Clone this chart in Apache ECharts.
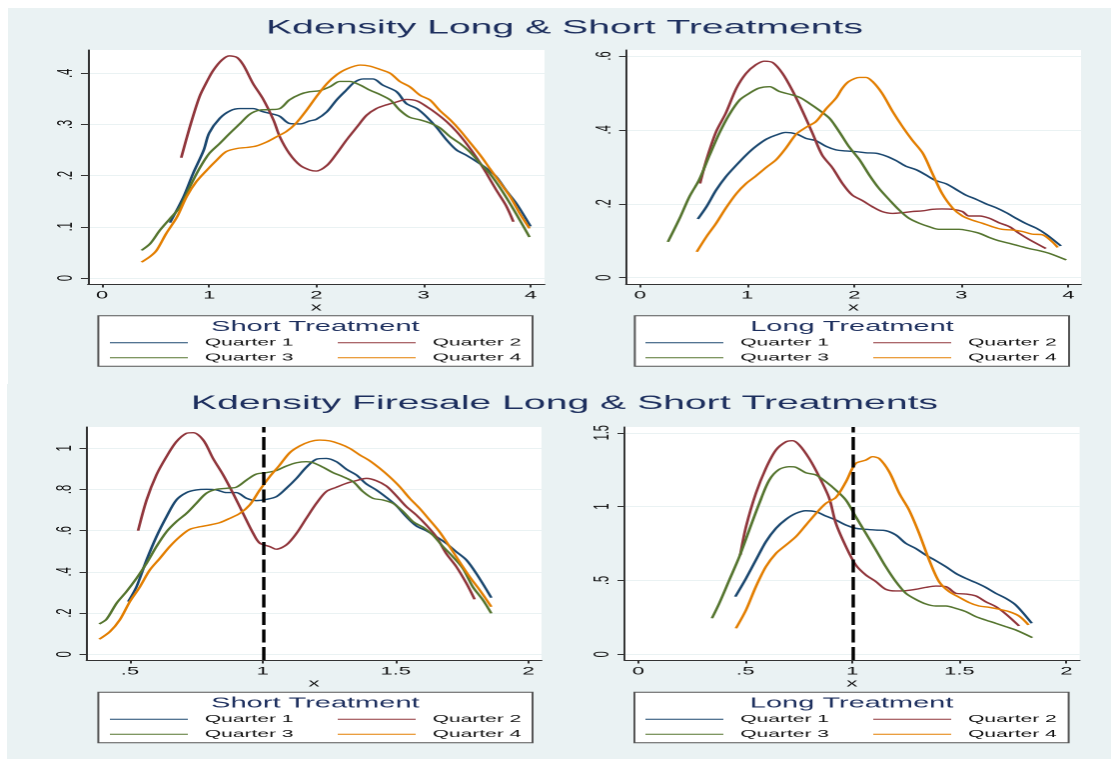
<!DOCTYPE html>
<html><head><meta charset="utf-8">
<script src="https://cdn.jsdelivr.net/npm/echarts@6/dist/echarts.min.js"></script>
<style>
html,body{margin:0;padding:0;background:#fff;width:1111px;height:759px;overflow:hidden;}
#chart{position:absolute;left:0;top:0;width:556px;height:759px;transform:scaleX(1.99820);transform-origin:0 0;}
</style></head><body><div id="chart"></div>
<script>
// ---------- data ----------
const quarterNames = ['Quarter 1','Quarter 2','Quarter 3','Quarter 4'];
const mainTitles = ['Kdensity Long & Short Treatments','Kdensity Firesale Long & Short Treatments'];
const legendTitles = ['Short Treatment','Long Treatment','Short Treatment','Long Treatment'];
const axisName = 'x';
const firesaleCutoff = 1;

const tlXTicks = [0,1,2,3,4];
const tlYTicks = [0,0.1,0.2,0.3,0.4];
const trXTicks = [0,1,2,3,4];
const trYTicks = [0,0.2,0.4,0.6];
const blXTicks = [0.5,1,1.5,2];
const blYTicks = [0,0.2,0.4,0.6,0.8,1];
const brXTicks = [0,0.5,1,1.5,2];
const brYTicks = [0,0.5,1,1.5];

// Kdensity Long & Short - Short Treatment
const tlQ1 = [[0.635,0.108],[0.76,0.158],[0.85,0.204],[0.95,0.25],[1.0,0.283],[1.1,0.312],[1.2,0.327],[1.29,0.331],[1.41,0.331],[1.5,0.325],[1.6,0.32],[1.66,0.316],[1.75,0.302],[1.85,0.301],[1.94,0.307],[2.0,0.31],[2.1,0.325],[2.19,0.348],[2.28,0.367],[2.36,0.383],[2.44,0.389],[2.53,0.389],[2.62,0.377],[2.75,0.364],[2.84,0.341],[2.94,0.331],[3.03,0.315],[3.12,0.295],[3.22,0.269],[3.31,0.25],[3.4,0.24],[3.5,0.227],[3.59,0.214],[3.68,0.198],[3.77,0.172],[3.87,0.145],[4.0,0.101]];
const tlQ2 = [[0.74,0.235],[0.82,0.295],[0.91,0.354],[0.98,0.384],[1.04,0.406],[1.12,0.426],[1.19,0.434],[1.26,0.431],[1.32,0.416],[1.41,0.38],[1.5,0.351],[1.6,0.309],[1.66,0.276],[1.75,0.243],[1.85,0.22],[1.94,0.211],[2.0,0.209],[2.1,0.22],[2.19,0.243],[2.28,0.269],[2.38,0.295],[2.47,0.318],[2.56,0.331],[2.65,0.338],[2.75,0.344],[2.84,0.349],[2.94,0.346],[3.03,0.335],[3.12,0.322],[3.22,0.305],[3.31,0.286],[3.4,0.263],[3.5,0.234],[3.59,0.204],[3.68,0.172],[3.77,0.142],[3.84,0.11]];
const tlQ3 = [[0.37,0.054],[0.45,0.067],[0.54,0.093],[0.635,0.116],[0.73,0.139],[0.82,0.178],[0.91,0.214],[1.0,0.243],[1.1,0.263],[1.19,0.282],[1.29,0.302],[1.38,0.32],[1.47,0.328],[1.56,0.329],[1.66,0.331],[1.75,0.348],[1.85,0.359],[1.94,0.364],[2.03,0.366],[2.13,0.374],[2.22,0.384],[2.31,0.384],[2.41,0.377],[2.5,0.367],[2.59,0.359],[2.69,0.348],[2.78,0.328],[2.87,0.314],[2.97,0.309],[3.06,0.303],[3.15,0.294],[3.25,0.276],[3.34,0.263],[3.43,0.247],[3.53,0.224],[3.62,0.204],[3.71,0.178],[3.81,0.145],[3.9,0.113],[3.99,0.08]];
const tlQ4 = [[0.37,0.031],[0.45,0.042],[0.51,0.054],[0.6,0.087],[0.7,0.119],[0.79,0.159],[0.88,0.188],[0.98,0.211],[1.07,0.23],[1.16,0.247],[1.26,0.253],[1.35,0.255],[1.44,0.258],[1.54,0.266],[1.63,0.276],[1.72,0.286],[1.81,0.302],[1.91,0.328],[2.0,0.354],[2.1,0.38],[2.19,0.397],[2.28,0.408],[2.41,0.416],[2.5,0.414],[2.59,0.408],[2.69,0.4],[2.78,0.384],[2.87,0.374],[2.97,0.357],[3.06,0.348],[3.15,0.328],[3.25,0.309],[3.34,0.289],[3.43,0.266],[3.53,0.24],[3.62,0.214],[3.71,0.188],[3.81,0.159],[3.9,0.126],[3.99,0.097]];

// Kdensity Long & Short - Long Treatment
const trQ1 = [[0.54,0.159],[0.62,0.192],[0.71,0.237],[0.8,0.273],[0.9,0.305],[0.99,0.332],[1.08,0.355],[1.18,0.375],[1.27,0.386],[1.36,0.393],[1.46,0.389],[1.55,0.377],[1.64,0.371],[1.74,0.355],[1.83,0.346],[1.92,0.343],[2.02,0.341],[2.11,0.338],[2.2,0.337],[2.3,0.329],[2.39,0.317],[2.48,0.302],[2.58,0.292],[2.67,0.278],[2.76,0.263],[2.86,0.254],[2.95,0.239],[3.04,0.224],[3.14,0.212],[3.23,0.2],[3.32,0.19],[3.42,0.176],[3.51,0.161],[3.6,0.147],[3.7,0.134],[3.79,0.118],[3.93,0.086]];
const trQ2 = [[0.56,0.255],[0.62,0.319],[0.71,0.395],[0.8,0.445],[0.9,0.513],[0.99,0.553],[1.08,0.576],[1.16,0.586],[1.24,0.582],[1.33,0.553],[1.42,0.508],[1.52,0.449],[1.61,0.391],[1.7,0.332],[1.8,0.296],[1.89,0.255],[1.98,0.224],[2.08,0.208],[2.17,0.192],[2.26,0.179],[2.36,0.174],[2.45,0.176],[2.54,0.179],[2.64,0.181],[2.73,0.185],[2.82,0.186],[2.92,0.185],[3.01,0.179],[3.07,0.167],[3.17,0.167],[3.26,0.161],[3.35,0.149],[3.45,0.138],[3.54,0.12],[3.63,0.104],[3.79,0.079]];
const trQ3 = [[0.26,0.097],[0.37,0.161],[0.46,0.219],[0.55,0.264],[0.65,0.332],[0.74,0.391],[0.83,0.44],[0.93,0.481],[1.02,0.499],[1.11,0.513],[1.21,0.517],[1.3,0.504],[1.39,0.497],[1.49,0.488],[1.58,0.472],[1.67,0.454],[1.77,0.431],[1.86,0.395],[1.95,0.355],[2.05,0.319],[2.14,0.278],[2.23,0.242],[2.33,0.21],[2.42,0.183],[2.51,0.161],[2.61,0.147],[2.7,0.138],[2.79,0.131],[2.89,0.131],[2.98,0.131],[3.07,0.127],[3.17,0.12],[3.26,0.109],[3.35,0.1],[3.45,0.093],[3.54,0.086],[3.63,0.079],[3.73,0.073],[3.82,0.066],[3.98,0.048]];
const trQ4 = [[0.53,0.07],[0.62,0.111],[0.71,0.147],[0.8,0.188],[0.9,0.228],[0.99,0.255],[1.08,0.275],[1.18,0.299],[1.27,0.319],[1.36,0.35],[1.46,0.389],[1.55,0.407],[1.64,0.422],[1.74,0.458],[1.83,0.486],[1.89,0.513],[1.95,0.531],[2.05,0.542],[2.11,0.542],[2.17,0.531],[2.26,0.499],[2.36,0.449],[2.45,0.409],[2.54,0.373],[2.64,0.337],[2.73,0.282],[2.82,0.228],[2.92,0.188],[3.01,0.167],[3.1,0.156],[3.2,0.147],[3.29,0.138],[3.38,0.131],[3.48,0.129],[3.57,0.125],[3.66,0.118],[3.76,0.116],[3.85,0.097],[3.9,0.082]];

// Kdensity Firesale - Short Treatment
const blQ1 = [[0.494,0.256],[0.525,0.328],[0.563,0.458],[0.6,0.571],[0.638,0.668],[0.675,0.749],[0.713,0.785],[0.75,0.798],[0.788,0.801],[0.826,0.798],[0.863,0.785],[0.9,0.785],[0.939,0.757],[0.976,0.746],[1.014,0.752],[1.051,0.765],[1.089,0.806],[1.127,0.854],[1.164,0.908],[1.202,0.947],[1.239,0.951],[1.277,0.935],[1.315,0.898],[1.352,0.871],[1.39,0.827],[1.427,0.798],[1.465,0.762],[1.5,0.725],[1.54,0.668],[1.578,0.623],[1.615,0.6],[1.653,0.571],[1.69,0.539],[1.728,0.498],[1.766,0.458],[1.803,0.393],[1.86,0.275]];
const blQ2 = [[0.531,0.6],[0.563,0.749],[0.6,0.871],[0.638,0.96],[0.675,1.032],[0.713,1.073],[0.738,1.076],[0.776,1.04],[0.813,0.951],[0.851,0.871],[0.888,0.782],[0.926,0.684],[0.964,0.587],[0.989,0.539],[1.026,0.523],[1.051,0.51],[1.089,0.531],[1.127,0.587],[1.164,0.66],[1.202,0.733],[1.239,0.79],[1.277,0.811],[1.315,0.83],[1.352,0.843],[1.39,0.854],[1.427,0.843],[1.465,0.817],[1.5,0.773],[1.54,0.717],[1.578,0.676],[1.615,0.628],[1.653,0.571],[1.69,0.49],[1.728,0.426],[1.766,0.345],[1.797,0.267]];
const blQ3 = [[0.385,0.147],[0.412,0.17],[0.45,0.248],[0.487,0.304],[0.525,0.369],[0.563,0.442],[0.6,0.523],[0.638,0.595],[0.675,0.644],[0.713,0.684],[0.75,0.733],[0.788,0.782],[0.826,0.801],[0.863,0.806],[0.9,0.811],[0.939,0.846],[0.976,0.875],[1.014,0.882],[1.051,0.892],[1.089,0.914],[1.127,0.93],[1.164,0.935],[1.189,0.93],[1.227,0.908],[1.264,0.882],[1.302,0.862],[1.34,0.838],[1.377,0.79],[1.415,0.757],[1.452,0.749],[1.49,0.733],[1.528,0.693],[1.565,0.644],[1.603,0.617],[1.64,0.579],[1.678,0.523],[1.715,0.474],[1.753,0.417],[1.79,0.328],[1.828,0.264],[1.86,0.199]];
const blQ4 = [[0.385,0.073],[0.425,0.11],[0.462,0.167],[0.5,0.256],[0.538,0.328],[0.575,0.409],[0.613,0.466],[0.65,0.523],[0.688,0.571],[0.726,0.607],[0.763,0.619],[0.801,0.628],[0.838,0.639],[0.876,0.66],[0.914,0.684],[0.951,0.725],[0.989,0.798],[1.026,0.862],[1.064,0.919],[1.102,0.979],[1.139,1.011],[1.177,1.032],[1.214,1.04],[1.252,1.036],[1.29,1.021],[1.327,1.0],[1.365,0.968],[1.402,0.94],[1.44,0.903],[1.477,0.862],[1.515,0.814],[1.553,0.757],[1.59,0.709],[1.628,0.652],[1.665,0.595],[1.703,0.523],[1.74,0.45],[1.778,0.377],[1.816,0.312],[1.86,0.231]];

// Kdensity Firesale - Long Treatment
const brQ1 = [[0.453,0.39],[0.503,0.514],[0.549,0.638],[0.596,0.762],[0.643,0.853],[0.69,0.914],[0.736,0.954],[0.783,0.972],[0.83,0.965],[0.876,0.936],[0.923,0.909],[0.97,0.875],[1.016,0.853],[1.063,0.846],[1.11,0.841],[1.156,0.837],[1.203,0.808],[1.25,0.751],[1.296,0.717],[1.343,0.672],[1.39,0.634],[1.437,0.593],[1.483,0.548],[1.53,0.514],[1.577,0.485],[1.623,0.453],[1.67,0.413],[1.717,0.379],[1.763,0.334],[1.838,0.21]];
const brQ2 = [[0.476,0.672],[0.503,0.864],[0.549,1.09],[0.596,1.259],[0.643,1.383],[0.69,1.439],[0.72,1.446],[0.752,1.417],[0.798,1.326],[0.845,1.202],[0.892,1.056],[0.923,0.887],[0.97,0.729],[1.016,0.605],[1.063,0.537],[1.11,0.492],[1.156,0.44],[1.203,0.429],[1.25,0.431],[1.296,0.44],[1.343,0.453],[1.39,0.462],[1.437,0.458],[1.483,0.413],[1.53,0.408],[1.577,0.395],[1.623,0.356],[1.67,0.323],[1.717,0.273],[1.779,0.192]];
const brQ3 = [[0.344,0.244],[0.378,0.345],[0.425,0.503],[0.472,0.661],[0.518,0.841],[0.565,1.022],[0.612,1.18],[0.658,1.252],[0.705,1.27],[0.736,1.266],[0.783,1.229],[0.83,1.214],[0.876,1.168],[0.923,1.112],[0.97,1.044],[1.016,0.932],[1.063,0.819],[1.11,0.706],[1.156,0.593],[1.203,0.492],[1.25,0.413],[1.296,0.372],[1.343,0.341],[1.39,0.327],[1.437,0.327],[1.483,0.311],[1.53,0.289],[1.577,0.255],[1.623,0.232],[1.67,0.21],[1.717,0.187],[1.763,0.165],[1.841,0.113]];
const brQ4 = [[0.456,0.176],[0.503,0.3],[0.549,0.458],[0.596,0.593],[0.643,0.683],[0.69,0.74],[0.736,0.796],[0.783,0.875],[0.83,0.954],[0.876,1.022],[0.923,1.062],[0.97,1.168],[1.016,1.293],[1.063,1.315],[1.094,1.338],[1.125,1.326],[1.172,1.236],[1.219,1.09],[1.265,0.977],[1.312,0.819],[1.359,0.638],[1.405,0.492],[1.452,0.424],[1.499,0.386],[1.546,0.35],[1.592,0.327],[1.639,0.318],[1.686,0.305],[1.732,0.289],[1.779,0.259],[1.823,0.199]];

// ---------- styling / layout ----------
const FONT = '"Liberation Sans", Arial, Helvetica, sans-serif';
const NAVY = '#1d2f5e';
const BG = '#eaf2f3';
const COLORS = ['#1a476f','#90353b','#55752f','#e37e00'];

const panels = [
  {data:[tlQ1,tlQ2,tlQ3,tlQ4], xt:tlXTicks, yt:tlYTicks, grid:{left:44, top:50, width:228.5, height:234}, xr:[-0.1306,4.1306], yr:[-0.0117,0.4455], vline:false},
  {data:[trQ1,trQ2,trQ3,trQ4], xt:trXTicks, yt:trYTicks, grid:{left:313.3, top:50, width:227.7, height:234}, xr:[-0.131,4.118], yr:[-0.017,0.6162], vline:false},
  {data:[blQ1,blQ2,blQ3,blQ4], xt:blXTicks, yt:blYTicks, grid:{left:43.3, top:427, width:227.7, height:233}, xr:[0.337,2.049], yr:[-0.0277,1.1034], vline:true},
  {data:[brQ1,brQ2,brQ3,brQ4], xt:brXTicks, yt:brYTicks, grid:{left:312.5, top:427, width:227.8, height:233}, xr:[-0.065,2.062], yr:[-0.0386,1.539], vline:true}
];

const fmt = v => { const s = String(+(+v).toFixed(4)); return s.replace(/^0\./,'.'); };
const axisCol = '#333';

const grids = [], xAxes = [], yAxes = [], series = [];
panels.forEach((p, i) => {
  grids.push(Object.assign({show:true, backgroundColor:'#fff', borderWidth:0, containLabel:false}, p.grid));
  xAxes.push({
    type:'value', gridIndex:i, min:p.xr[0], max:p.xr[1],
    name: axisName, nameLocation:'middle', nameGap:15,
    nameTextStyle:{fontFamily:FONT, fontSize:11, color:'#111'},
    axisLine:{show:true, onZero:false, lineStyle:{color:axisCol, width:1}},
    axisTick:{show:true, inside:false, length:3.5, customValues:p.xt, lineStyle:{color:axisCol, width:1}},
    axisLabel:{show:true, margin:6, customValues:p.xt, formatter:fmt, fontFamily:FONT, fontSize:11, color:'#111'},
    splitLine:{show:false}
  });
  yAxes.push({
    type:'value', gridIndex:i, min:p.yr[0], max:p.yr[1],
    axisLine:{show:true, onZero:false, lineStyle:{color:axisCol, width:1}},
    axisTick:{show:true, inside:false, length:3.5, customValues:p.yt, lineStyle:{color:axisCol, width:1}},
    axisLabel:{show:true, rotate:90, margin:5.5, customValues:p.yt, formatter:fmt, fontFamily:FONT, fontSize:11, color:'#111'},
    splitLine:{show:true, lineStyle:{color:BG, width:1}}
  });
  p.data.forEach((d, q) => {
    const s = {
      type:'line', name:quarterNames[q], xAxisIndex:i, yAxisIndex:i, data:d,
      showSymbol:false, symbol:'none', smooth:0.3,
      lineStyle:{color:COLORS[q], width:1.4}, itemStyle:{color:COLORS[q]},
      emphasis:{disabled:true}
    };
    if (p.vline && q === 3) {
      s.markLine = {silent:true, symbol:['none','none'], label:{show:false}, z:10,
        lineStyle:{color:'#000', type:[13,4.5], width:1.7},
        emphasis:{disabled:true},
        data:[{xAxis:firesaleCutoff}]};
    }
    series.push(s);
  });
});

const legendPos = [{left:54.5, top:336.2},{left:322.5, top:336.2},{left:54.5, top:712.8},{left:322.5, top:712.8}];
const legends = legendPos.map(pos => Object.assign({
  data:quarterNames, orient:'horizontal', width:230, padding:0, itemGap:2,
  itemWidth:39, itemHeight:13, inactiveColor:'#ccc',
  lineStyle:{width:1},
  itemStyle:{opacity:0, borderWidth:0},
  textStyle:{fontFamily:FONT, fontSize:10.5, color:'#111', width:64, lineHeight:13, padding:[0,0,0,3.5]}
}, pos));

// centre titles on the layout centre of the original figure
const measureCtx = document.createElement('canvas').getContext('2d');
const TITLE_SIZE = 19.6;
measureCtx.font = TITLE_SIZE + 'px ' + FONT;
const titleCenterX = 282.5;
const titleLeft = t => titleCenterX - measureCtx.measureText(t).width / 2;

const boxes = [
  {x:49.2, y:315.7, cx:157.8, ty:327},
  {x:317.7, y:315.7, cx:426.4, ty:327},
  {x:49.2, y:692.3, cx:157.8, ty:703.5},
  {x:317.5, y:692.3, cx:426.2, ty:703.5}
];
const graphics = [
  {type:'rect', z:-100, silent:true, shape:{x:4, y:8, width:560, height:376}, style:{fill:BG}},
  {type:'rect', z:-100, silent:true, shape:{x:3.5, y:384, width:560, height:380}, style:{fill:BG}}
];
boxes.forEach((b, i) => {
  graphics.push({type:'rect', z:1, silent:true, shape:{x:b.x, y:b.y, width:217.3, height:50.5},
    style:{fill:'#fff', stroke:'#555', lineWidth:1}});
  graphics.push({type:'text', z:5, silent:true, x:b.cx, y:b.ty,
    style:{text:legendTitles[i], fontFamily:FONT, fontSize:14.5, fill:NAVY,
      align:'center', verticalAlign:'middle', textAlign:'center', textVerticalAlign:'middle'}});
});

const option = {
  backgroundColor:'transparent',
  animation:false,
  title:[
    {text:mainTitles[0], left:titleLeft(mainTitles[0]), top:18.2, padding:0, textStyle:{fontFamily:FONT, fontSize:TITLE_SIZE, fontWeight:'normal', color:NAVY}},
    {text:mainTitles[1], left:titleLeft(mainTitles[1]), top:393.7, padding:0, textStyle:{fontFamily:FONT, fontSize:TITLE_SIZE, fontWeight:'normal', color:NAVY}}
  ],
  grid:grids, xAxis:xAxes, yAxis:yAxes, legend:legends, series:series,
  graphic:{elements:graphics},
  tooltip:{show:false}
};

const chart = echarts.init(document.getElementById('chart'), null, {renderer:'canvas', devicePixelRatio:2});
chart.setOption(option);
</script></body></html>
